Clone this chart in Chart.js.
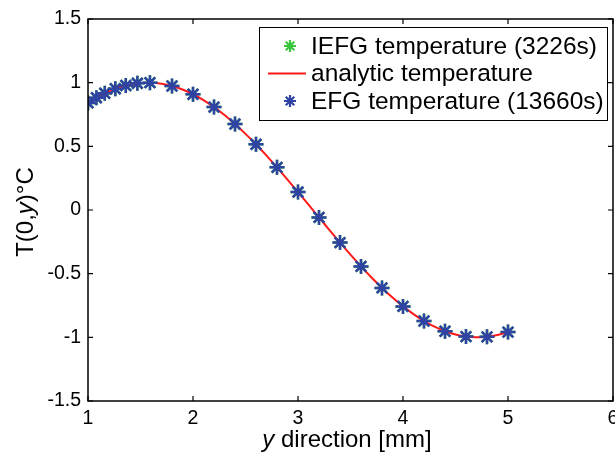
<!DOCTYPE html>
<html>
<head>
<meta charset="utf-8">
<script src="https://cdn.jsdelivr.net/npm/chart.js@4.4.1/dist/chart.umd.min.js"></script>
<style>
    html, body { margin: 0; padding: 0; background: #fff; }
    #wrap { width: 615px; height: 454px; }
</style>
</head>
<body>
<div id="wrap"><canvas id="chart" width="615" height="454"></canvas></div>
<script>
    // Nodos (y) y temperatura
    const nodeY = [1.0, 1.08, 1.16, 1.26, 1.36, 1.47, 1.59, 1.8, 2.0, 2.2, 2.4, 2.6, 2.8,
                   3.0, 3.2, 3.4, 3.6, 3.8, 4.0, 4.2, 4.4, 4.6, 4.8, 5.0];
    const efgTemp = [0.841, 0.882, 0.917, 0.952, 0.978, 0.995, 1.0, 0.974, 0.909, 0.808,
                     0.675, 0.516, 0.335, 0.141, -0.058, -0.256, -0.443, -0.612, -0.757,
                     -0.872, -0.952, -0.994, -0.996, -0.959];
    const iefgTemp = [0.841, 0.882, 0.917, 0.952, 0.978, 0.995, 1.0, 0.974, 0.909, 0.808,
                      0.675, 0.516, 0.335, 0.141, -0.058, -0.256, -0.443, -0.612, -0.757,
                      -0.872, -0.952, -0.994, -0.996, -0.959];

    // Curva analítica
    const analyticY = [1.0, 1.1, 1.2, 1.3, 1.4, 1.5, 1.6, 1.7, 1.8, 1.9, 2.0, 2.1, 2.2, 2.3,
                       2.4, 2.5, 2.6, 2.7, 2.8, 2.9, 3.0, 3.1, 3.2, 3.3, 3.4, 3.5, 3.6, 3.7,
                       3.8, 3.9, 4.0, 4.1, 4.2, 4.3, 4.4, 4.5, 4.6, 4.7, 4.8, 4.9, 5.0];
    const analyticTemp = [0.841, 0.891, 0.932, 0.964, 0.985, 0.997, 1.0, 0.992, 0.974, 0.946,
                          0.909, 0.863, 0.808, 0.746, 0.675, 0.598, 0.516, 0.427, 0.335, 0.239,
                          0.141, 0.042, -0.058, -0.158, -0.256, -0.351, -0.443, -0.530, -0.612,
                          -0.688, -0.757, -0.818, -0.872, -0.916, -0.952, -0.978, -0.994, -1.0,
                          -0.996, -0.982, -0.959];

    const xTicks = [1, 2, 3, 4, 5, 6];
    const yTicks = [-1.5, -1, -0.5, 0, 0.5, 1, 1.5];

    const COLORS = {
        green: '#3cc43c',
        red: '#ff1a1a',
        blue: '#2f43a3',
        axis: '#000'
    };

    const FONT = '"Liberation Sans", Arial, sans-serif';

    function toPoints(xs, ys) {
        return xs.map((x, i) => ({ x: x, y: ys[i] }));
    }

    /**
     * Marco tipo MATLAB con marcas hacia dentro, títulos y leyenda
     */
    const matlabBox = {
        id: 'matlabBox',
        afterDraw(chart) {
            const ctx = chart.ctx;
            const a = chart.chartArea;
            const xs = chart.scales.x;
            const ys = chart.scales.y;
            const tl = 5;

            ctx.save();
            ctx.strokeStyle = COLORS.axis;
            ctx.lineWidth = 1.5;
            ctx.strokeRect(a.left, a.top, a.right - a.left, a.bottom - a.top);

            ctx.lineWidth = 1.2;
            ctx.beginPath();
            xTicks.forEach(v => {
                const px = xs.getPixelForValue(v);
                ctx.moveTo(px, a.bottom); ctx.lineTo(px, a.bottom - tl);
                ctx.moveTo(px, a.top); ctx.lineTo(px, a.top + tl);
            });
            yTicks.forEach(v => {
                const py = ys.getPixelForValue(v);
                ctx.moveTo(a.left, py); ctx.lineTo(a.left + tl, py);
                ctx.moveTo(a.right, py); ctx.lineTo(a.right - tl, py);
            });
            ctx.stroke();

            // Títulos con la "y" en cursiva
            ctx.fillStyle = '#000';
            ctx.textBaseline = 'alphabetic';
            drawMixed(ctx, [['y', true], [' direction [mm]', false]], 347, 447, 24);

            ctx.save();
            ctx.translate(33, 212);
            ctx.rotate(-Math.PI / 2);
            drawMixed(ctx, [['T(0,', false], ['y', true], [')°C', false]], 0, 0, 24);
            ctx.restore();

            // Leyenda
            const box = { left: a.left + 171, top: a.top + 8, width: 348, height: 93 };
            ctx.fillStyle = '#fff';
            ctx.fillRect(box.left, box.top, box.width, box.height);
            ctx.strokeStyle = '#000';
            ctx.lineWidth = 1;
            ctx.strokeRect(box.left + 0.5, box.top + 0.5, box.width, box.height);

            ctx.font = '24.5px ' + FONT;
            ctx.textAlign = 'left';
            ctx.textBaseline = 'middle';
            chart.data.datasets.forEach((ds, i) => {
                const cy = box.top + 19 + i * 27.5;
                const mx = box.left + 31;
                if (ds.showLine) {
                    ctx.strokeStyle = ds.borderColor;
                    ctx.lineWidth = 2;
                    ctx.beginPath();
                    ctx.moveTo(box.left + 9, cy);
                    ctx.lineTo(box.left + 47, cy);
                    ctx.stroke();
                } else {
                    drawStar(ctx, mx, cy, 6, ds.borderColor, 2.2);
                }
                ctx.fillStyle = '#000';
                ctx.fillText(ds.label, box.left + 52, cy + 1);
            });
            ctx.restore();
        }
    };

    function drawMixed(ctx, parts, cx, y, size) {
        let total = 0;
        parts.forEach(p => {
            ctx.font = (p[1] ? 'italic ' : '') + size + 'px ' + FONT;
            total += ctx.measureText(p[0]).width;
        });
        let x = cx - total / 2;
        ctx.textAlign = 'left';
        parts.forEach(p => {
            ctx.font = (p[1] ? 'italic ' : '') + size + 'px ' + FONT;
            ctx.fillText(p[0], x, y);
            x += ctx.measureText(p[0]).width;
        });
    }

    function drawStar(ctx, x, y, r, color, w) {
        ctx.save();
        ctx.strokeStyle = color;
        ctx.lineWidth = w;
        ctx.beginPath();
        for (let k = 0; k < 4; k++) {
            const ang = k * Math.PI / 4;
            ctx.moveTo(x - r * Math.cos(ang), y - r * Math.sin(ang));
            ctx.lineTo(x + r * Math.cos(ang), y + r * Math.sin(ang));
        }
        ctx.stroke();
        ctx.restore();
    }

    new Chart(document.getElementById('chart'), {
        type: 'scatter',
        data: {
            datasets: [
                {
                    label: 'IEFG temperature (3226s)',
                    data: toPoints(nodeY, iefgTemp),
                    showLine: false,
                    pointStyle: 'star',
                    pointRadius: 7.5,
                    borderWidth: 2.5,
                    borderColor: COLORS.green,
                    backgroundColor: COLORS.green,
                    order: 2
                },
                {
                    label: 'analytic temperature',
                    data: toPoints(analyticY, analyticTemp),
                    showLine: true,
                    pointRadius: 0,
                    borderWidth: 2,
                    borderColor: COLORS.red,
                    backgroundColor: COLORS.red,
                    tension: 0.3,
                    order: 1
                },
                {
                    label: 'EFG temperature (13660s)',
                    data: toPoints(nodeY, efgTemp),
                    showLine: false,
                    pointStyle: 'star',
                    pointRadius: 7.5,
                    borderWidth: 2.5,
                    borderColor: COLORS.blue,
                    backgroundColor: COLORS.blue,
                    order: 0
                }
            ]
        },
        options: {
            responsive: false,
            animation: false,
            layout: { autoPadding: false, padding: { top: 19, right: 2, left: 0, bottom: 0 } },
            plugins: {
                legend: { display: false },
                tooltip: { enabled: false }
            },
            scales: {
                x: {
                    type: 'linear',
                    min: 1,
                    max: 6,
                    afterBuildTicks: s => { s.ticks = xTicks.map(v => ({ value: v })); },
                    afterFit: s => { s.height = 53; s.paddingLeft = 0; s.paddingRight = 0; },
                    grid: { display: false, drawTicks: false },
                    border: { display: false },
                    ticks: {
                        padding: 6,
                        maxRotation: 0,
                        color: '#000',
                        font: { size: 19.5, family: FONT },
                        callback: v => String(v)
                    }
                },
                y: {
                    type: 'linear',
                    min: -1.5,
                    max: 1.5,
                    afterBuildTicks: s => { s.ticks = yTicks.map(v => ({ value: v })); },
                    afterFit: s => { s.width = 88; s.paddingTop = 0; s.paddingBottom = 0; },
                    grid: { display: false, drawTicks: false },
                    border: { display: false },
                    ticks: {
                        padding: 7,
                        color: '#000',
                        font: { size: 19.5, family: FONT },
                        callback: v => String(v)
                    }
                }
            }
        },
        plugins: [matlabBox]
    });
</script>
</body>
</html>
